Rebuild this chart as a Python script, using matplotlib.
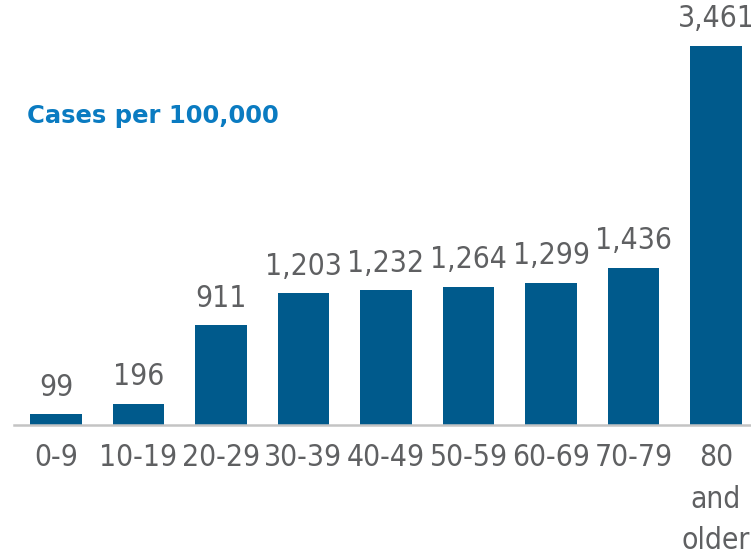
import matplotlib
matplotlib.use("Agg")
import matplotlib.pyplot as plt

categories = ["0-9", "10-19", "20-29", "30-39", "40-49", "50-59", "60-69", "70-79", "80\nand\nolder"]
values = [99, 196, 911, 1203, 1232, 1264, 1299, 1436, 3461]
title_text = "Cases per 100,000"

fam = "DejaVu Sans"
stretch = "condensed"

bar_color = "#005a8c"
text_grey = "#5f6062"
title_blue = "#0a7bc1"

fig = plt.figure(figsize=(7.51, 5.58), dpi=100)
ax = fig.add_axes([0, (558 - 425) / 558, 1, 425 / 558])
x = list(range(len(categories)))
ax.bar(x, values, width=0.63, color=bar_color)
ax.set_xlim(-56 / 82.5, (751 - 56) / 82.5)
ax.set_ylim(0, 3881)

for xi, v in zip(x, values):
    ax.annotate(f"{v:,}", (xi, v), xytext=(0, 9), textcoords="offset points",
                ha="center", va="bottom", fontsize=21.5, color=text_grey,
                family=fam, fontstretch=stretch)

ax.set_xticks(x)
ax.set_xticklabels(categories, fontsize=21.5, color=text_grey, family=fam,
                   fontstretch=stretch, linespacing=1.55, va="top")
ax.tick_params(axis="x", length=0, pad=13)
ax.set_yticks([])
for s in ["top", "right", "left"]:
    ax.spines[s].set_visible(False)
ax.spines["bottom"].set_color("#c4c4c4")
ax.spines["bottom"].set_linewidth(1.8)
ax.spines["bottom"].set_bounds(-42 / 82.5, (751 - 56) / 82.5)

fig.text(27 / 751, 1 - 116 / 558, title_text, fontsize=17.5, fontweight="bold",
         color=title_blue, family=fam, va="center", ha="left")

fig.savefig("out.png", dpi=100)
